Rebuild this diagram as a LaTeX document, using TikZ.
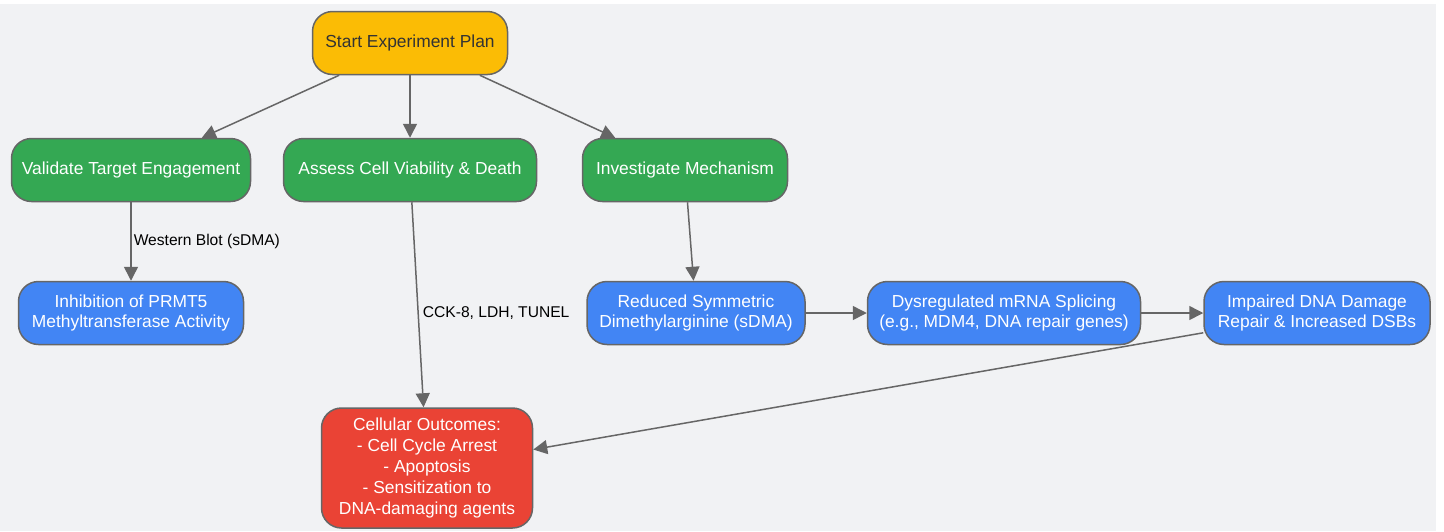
\documentclass[tikz,border=0pt]{standalone}
\usepackage{fontspec}
\setmainfont{Liberation Sans}
\usetikzlibrary{arrows.meta}
\definecolor{bgGrey}{HTML}{F1F2F4}
\definecolor{edgeGrey}{HTML}{666666}
\definecolor{planYellow}{HTML}{FBBC05}
\definecolor{stepGreen}{HTML}{34A853}
\definecolor{effectBlue}{HTML}{4285F4}
\definecolor{outcomeRed}{HTML}{EA4335}

\begin{document}
\begin{tikzpicture}[x=0.5pt,y=-0.5pt,
	box/.style={draw=edgeGrey, line width=0.75pt, rounded corners=10pt, align=center,
		font=\fontsize{8.7}{10.4}\selectfont, minimum height=31.5pt, inner sep=2pt, text=white},
	link/.style={draw=edgeGrey, line width=0.75pt, -{Triangle[length=7pt,width=7pt]}},
	lbl/.style={font=\fontsize{7.8}{9}\selectfont, text=black, inner sep=1pt}]
	\useasboundingbox (0,0) rectangle (1444,531);
	\fill[bgGrey] (0,4) rectangle (1436,531);

	% top of the plan
	\node[box, fill=planYellow, text=black!80, minimum width=97.5pt] (start) at (410,43) {Start Experiment Plan};

	% three branches
	\node[box, fill=stepGreen, minimum width=119.5pt] (validate) at (131,170) {Validate Target Engagement};
	\node[box, fill=stepGreen, minimum width=126.5pt] (assess) at (410,170) {Assess Cell Viability \& Death};
	\node[box, fill=stepGreen, minimum width=102.5pt] (mechanism) at (685,170) {Investigate Mechanism};

	% effects
	\node[box, fill=effectBlue, minimum width=112.5pt] (inhibition) at (131,313) {Inhibition of PRMT5\\Methyltransferase Activity};
	\node[box, fill=effectBlue, minimum width=109pt] (sdma) at (696,313) {Reduced Symmetric\\Dimethylarginine (sDMA)};
	\node[box, fill=effectBlue, minimum width=136.5pt] (splicing) at (1004,313) {Dysregulated mRNA Splicing\\(e.g., MDM4, DNA repair genes)};
	\node[box, fill=effectBlue, minimum width=113pt] (dsb) at (1317,313) {Impaired DNA Damage\\Repair \& Increased DSBs};

	% outcome
	\node[box, fill=outcomeRed, minimum width=105.5pt, minimum height=60pt] (outcome) at (427,468) {Cellular Outcomes:\\- Cell Cycle Arrest\\- Apoptosis\\- Sensitization to\\DNA-damaging agents};

	\draw[link] (start) -- (validate);
	\draw[link] (start) -- (assess);
	\draw[link] (start) -- (mechanism);
	\draw[link] (validate) -- (inhibition) node[lbl, pos=0.5, right] {Western Blot (sDMA)};
	\draw[link] (assess) -- (outcome) node[lbl, pos=0.54, right, inner sep=2pt] {CCK-8, LDH, TUNEL};
	\draw[link] (mechanism) -- (sdma);
	\draw[link] (sdma) -- (splicing);
	\draw[link] (splicing) -- (dsb);
	\draw[link] (dsb) -- (outcome);
\end{tikzpicture}
\end{document}
